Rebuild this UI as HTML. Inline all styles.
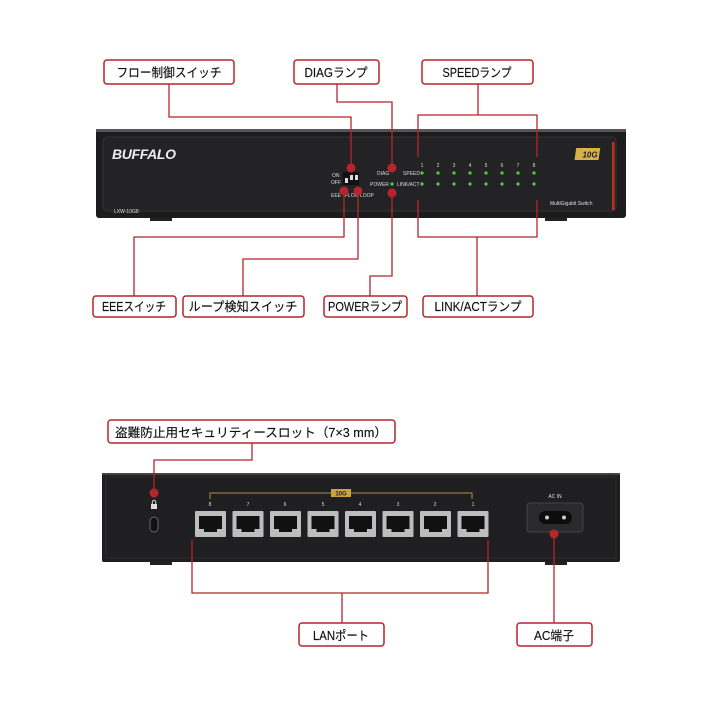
<!DOCTYPE html>
<html><head><meta charset="utf-8"><style>
html,body{margin:0;padding:0;background:#fff;}
svg{display:block;}
.lb{font-family:"Liberation Sans","Noto Sans CJK JP",sans-serif;font-size:12.5px;fill:#111;text-anchor:middle;stroke:#111;stroke-width:0.15;}
.sm{font-family:"Liberation Sans",sans-serif;font-size:5px;fill:#ddd;}
</style></head><body>
<svg width="720" height="720" viewBox="0 0 720 720" xmlns="http://www.w3.org/2000/svg">
<rect width="720" height="720" fill="#fff"/>
<!-- FRONT DEVICE -->
<rect x="150" y="216" width="22" height="5" fill="#222"/>
<rect x="545" y="216" width="22" height="5" fill="#222"/>
<rect x="96" y="129" width="530" height="89" rx="3" fill="#1c1c1e"/>
<rect x="96" y="129" width="530" height="3" fill="#555"/>
<rect x="103" y="137" width="513" height="74" rx="4" fill="#232325" stroke="#333" stroke-width="1"/>
<text x="112" y="159" font-family="Liberation Sans" font-weight="bold" font-style="italic" font-size="14" fill="#eee" textLength="64">BUFFALO</text>
<text x="114" y="213" class="sm" font-size="6">LXW-10G8</text>
<text x="550" y="205" class="sm" font-size="5.5">MultiGigabit Switch</text>
<rect x="576" y="148" width="24" height="12" fill="#d8b24a" transform="skewX(-8) translate(21,0)"/>
<text x="590" y="157.5" font-family="Liberation Sans" font-weight="bold" font-style="italic" font-size="8" fill="#222" text-anchor="middle">10G</text>
<rect x="612" y="142" width="2.5" height="68" fill="#c0301e"/>
<text x="332" y="177" class="sm">ON</text>
<text x="331" y="184" class="sm">OFF</text>
<rect x="343" y="172" width="16" height="13" fill="#111"/>
<rect x="345" y="178" width="3" height="5" fill="#ddd"/>
<rect x="350" y="175" width="3" height="5" fill="#ddd"/>
<rect x="355" y="175" width="3" height="5" fill="#ddd"/>
<text x="331" y="197" class="sm">EEE</text>
<text x="345" y="197" class="sm">FLOW</text>
<text x="360" y="197" class="sm">LOOP</text>
<text x="377" y="175" class="sm">DIAG</text>
<text x="370" y="186" class="sm">POWER</text>
<circle cx="392" cy="184" r="1.6" fill="#4cd43a"/>
<text x="403" y="175" class="sm">SPEED</text>
<text x="397" y="186" class="sm">LINK/ACT</text>
<g fill="#4cd43a">
<circle cx="422" cy="173" r="1.6"/><circle cx="438" cy="173" r="1.6"/><circle cx="454" cy="173" r="1.6"/><circle cx="470" cy="173" r="1.6"/><circle cx="486" cy="173" r="1.6"/><circle cx="502" cy="173" r="1.6"/><circle cx="518" cy="173" r="1.6"/><circle cx="534" cy="173" r="1.6"/>
<circle cx="422" cy="184" r="1.6"/><circle cx="438" cy="184" r="1.6"/><circle cx="454" cy="184" r="1.6"/><circle cx="470" cy="184" r="1.6"/><circle cx="486" cy="184" r="1.6"/><circle cx="502" cy="184" r="1.6"/><circle cx="518" cy="184" r="1.6"/><circle cx="534" cy="184" r="1.6"/>
</g>
<g class="sm">
<text x="422" y="167" text-anchor="middle">1</text><text x="438" y="167" text-anchor="middle">2</text><text x="454" y="167" text-anchor="middle">3</text><text x="470" y="167" text-anchor="middle">4</text><text x="486" y="167" text-anchor="middle">5</text><text x="502" y="167" text-anchor="middle">6</text><text x="518" y="167" text-anchor="middle">7</text><text x="534" y="167" text-anchor="middle">8</text>
</g>
<g stroke="#b5252b" stroke-width="1.3" fill="none">
<polyline points="169,84 169,117 351,117 351,168"/>
<polyline points="337,84 337,102 392,102 392,168"/>
<polyline points="478,84 478,115"/>
<polyline points="418,157 418,115 537,115 537,157"/>
<polyline points="134,296 134,237 344,237 344,191"/>
<polyline points="243,296 243,259 358,259 358,191"/>
<polyline points="370,296 370,276 392,276 392,193"/>
<polyline points="418,200 418,237 537,237 537,200"/>
<polyline points="477,237 477,296"/>
</g>
<g fill="#b5252b">
<circle cx="351" cy="168" r="4.5"/><circle cx="392" cy="168" r="4.5"/>
<circle cx="344" cy="191" r="4.5"/><circle cx="358" cy="191" r="4.5"/><circle cx="392" cy="193" r="4.5"/>
</g>
<g fill="#fff" stroke="#b5252b" stroke-width="1.5">
<rect x="104" y="60" width="130" height="24" rx="3"/>
<rect x="294" y="60" width="85" height="24" rx="3"/>
<rect x="422" y="60" width="111" height="24" rx="3"/>
<rect x="93" y="296" width="83" height="21" rx="3"/>
<rect x="183" y="296" width="121" height="21" rx="3"/>
<rect x="324" y="296" width="83" height="21" rx="3"/>
<rect x="423" y="296" width="110" height="21" rx="3"/>
<rect x="108" y="420" width="287" height="23" rx="3"/>
<rect x="299" y="623" width="85" height="23" rx="3"/>
<rect x="517" y="623" width="75" height="23" rx="3"/>
</g>
<text x="169" y="77" class="lb" textLength="105" lengthAdjust="spacingAndGlyphs">フロー制御スイッチ</text>
<text x="336" y="77" class="lb" textLength="63" lengthAdjust="spacingAndGlyphs">DIAGランプ</text>
<text x="477" y="77" class="lb" textLength="69" lengthAdjust="spacingAndGlyphs">SPEEDランプ</text>
<text x="134" y="311" class="lb" textLength="64" lengthAdjust="spacingAndGlyphs">EEEスイッチ</text>
<text x="243" y="311" class="lb" textLength="109" lengthAdjust="spacingAndGlyphs">ループ検知スイッチ</text>
<text x="365" y="311" class="lb" textLength="74" lengthAdjust="spacingAndGlyphs">POWERランプ</text>
<text x="478" y="311" class="lb" textLength="87" lengthAdjust="spacingAndGlyphs">LINK/ACTランプ</text>
<text x="251" y="437" class="lb" textLength="272" lengthAdjust="spacingAndGlyphs">盗難防止用セキュリティースロット（7×3 mm）</text>
<text x="341" y="640" class="lb" textLength="56" lengthAdjust="spacingAndGlyphs">LANポート</text>
<text x="554" y="640" class="lb" textLength="40" lengthAdjust="spacingAndGlyphs">AC端子</text>
<!-- REAR DEVICE -->
<rect x="150" y="560" width="22" height="5" fill="#222"/>
<rect x="545" y="560" width="22" height="5" fill="#222"/>
<rect x="102" y="473" width="518" height="89" rx="2" fill="#1f1f21"/>
<rect x="102" y="473" width="518" height="2" fill="#444"/>
<rect x="106" y="477" width="510" height="81" fill="none" stroke="#2c2c2e" stroke-width="1"/>
<rect x="151" y="504" width="6" height="5" fill="#ddd"/>
<path d="M152.3,504 v-2 a1.7,1.7 0 0 1 3.4,0 v2" stroke="#ddd" stroke-width="1" fill="none"/>
<rect x="150" y="517" width="8" height="15" rx="4" fill="#111" stroke="#666" stroke-width="1"/>
<polyline points="210,499 210,493 472,493 472,499" fill="none" stroke="#b39238" stroke-width="1"/>
<rect x="331" y="489" width="20" height="8" fill="#c9a440"/>
<text x="341" y="495.5" font-family="Liberation Sans" font-size="6" font-weight="bold" fill="#222" text-anchor="middle">10G</text>
<g fill="#bdbdbd">
<rect x="195" y="511" width="31" height="26" rx="1"/><rect x="232.5" y="511" width="31" height="26" rx="1"/><rect x="270" y="511" width="31" height="26" rx="1"/><rect x="307.5" y="511" width="31" height="26" rx="1"/><rect x="345" y="511" width="31" height="26" rx="1"/><rect x="382.5" y="511" width="31" height="26" rx="1"/><rect x="420" y="511" width="31" height="26" rx="1"/><rect x="457.5" y="511" width="31" height="26" rx="1"/>
</g>
<g fill="#111">
<path d="M199,516h23v13h-5v3h-13v-3h-5z"/><path d="M236.5,516h23v13h-5v3h-13v-3h-5z"/><path d="M274,516h23v13h-5v3h-13v-3h-5z"/><path d="M311.5,516h23v13h-5v3h-13v-3h-5z"/><path d="M349,516h23v13h-5v3h-13v-3h-5z"/><path d="M386.5,516h23v13h-5v3h-13v-3h-5z"/><path d="M424,516h23v13h-5v3h-13v-3h-5z"/><path d="M461.5,516h23v13h-5v3h-13v-3h-5z"/>
</g>
<g class="sm" font-size="5">
<text x="210" y="506" text-anchor="middle">8</text><text x="248" y="506" text-anchor="middle">7</text><text x="285" y="506" text-anchor="middle">6</text><text x="323" y="506" text-anchor="middle">5</text><text x="360" y="506" text-anchor="middle">4</text><text x="398" y="506" text-anchor="middle">3</text><text x="435" y="506" text-anchor="middle">2</text><text x="473" y="506" text-anchor="middle">1</text>
</g>
<text x="555" y="498" class="sm" font-size="4.5" text-anchor="middle">AC IN</text>
<rect x="527" y="503" width="56" height="29" rx="3" fill="#2a2a2c" stroke="#444" stroke-width="1"/>
<rect x="539" y="511" width="33" height="13" rx="6.5" fill="#0c0c0c"/>
<circle cx="547" cy="517.5" r="2" fill="#ccc"/><circle cx="564" cy="517.5" r="2" fill="#ccc"/>
<g stroke="#b5252b" stroke-width="1.3" fill="none">
<polyline points="252,443 252,460 154,460 154,493"/>
<polyline points="192,540 192,593 488,593 488,540"/>
<polyline points="342,593 342,623"/>
<polyline points="554,535 554,623"/>
</g>
<circle cx="154" cy="493" r="4.5" fill="#b5252b"/>
<circle cx="554" cy="534" r="4.5" fill="#b5252b"/>
</svg>
</body></html>
